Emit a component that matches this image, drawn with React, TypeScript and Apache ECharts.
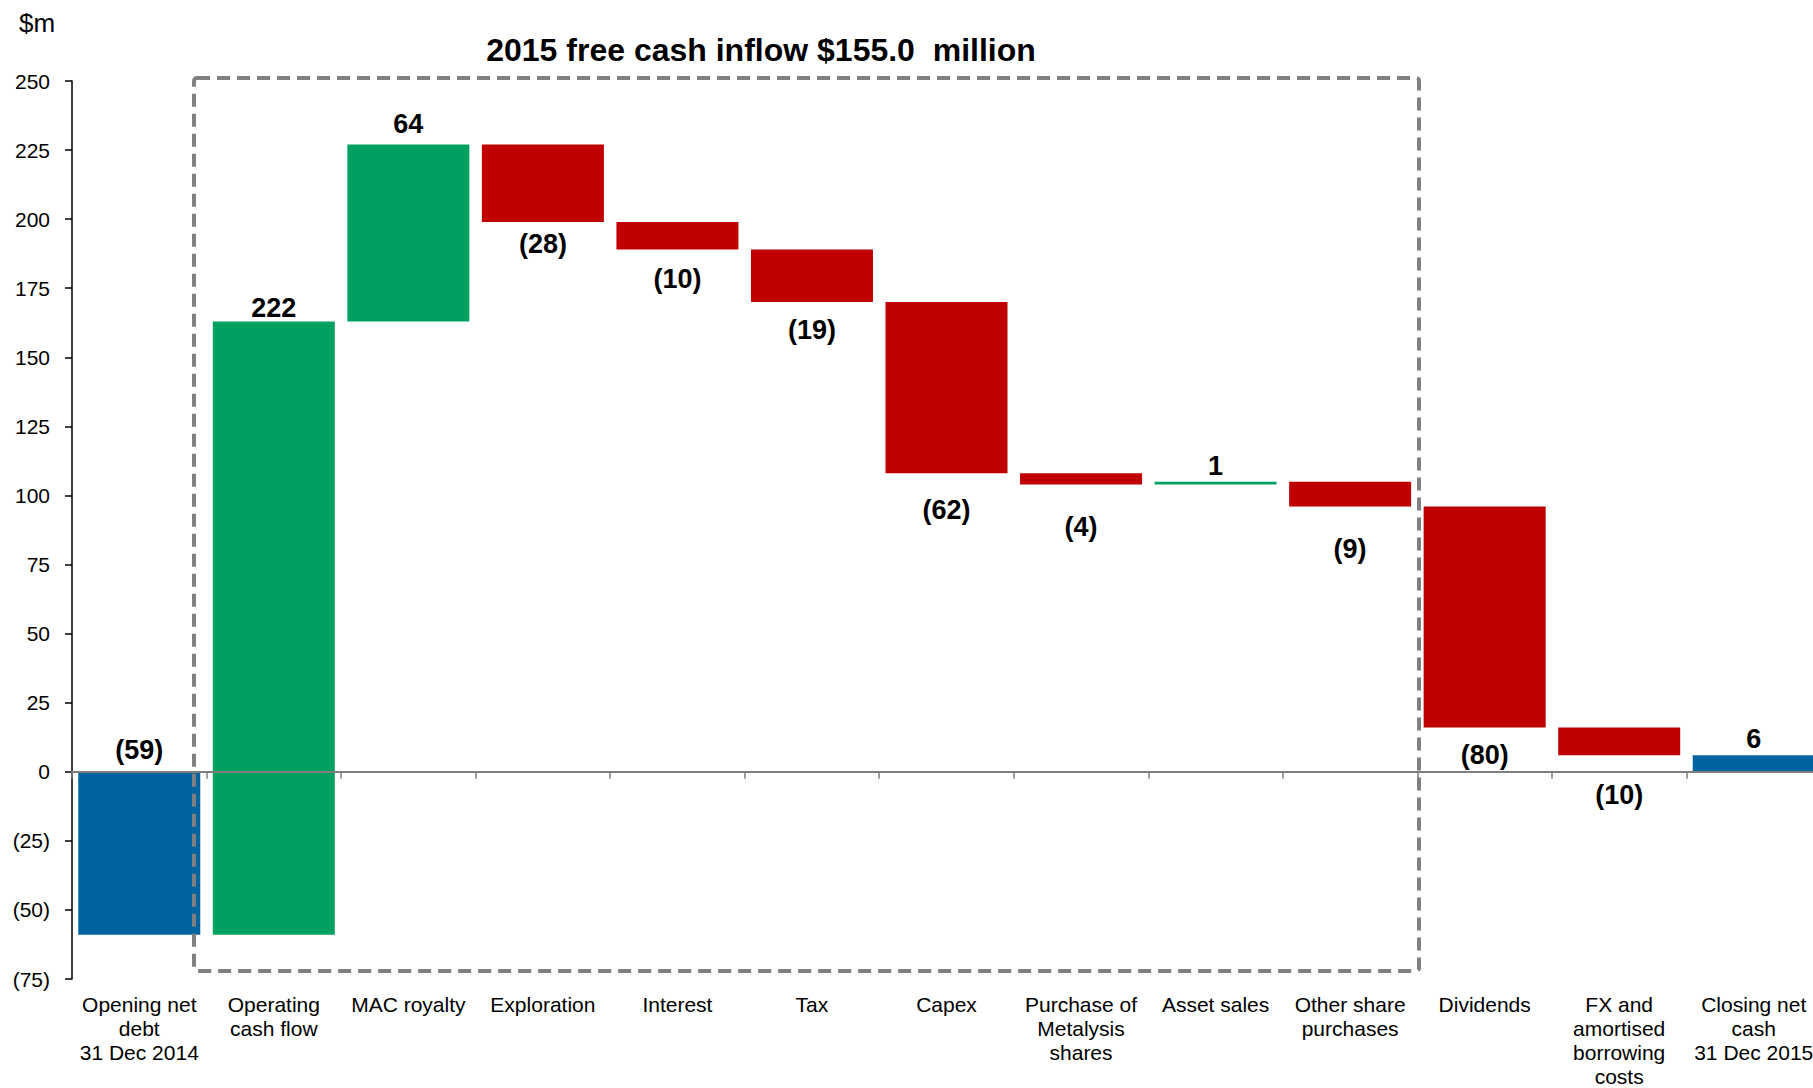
import React, { useEffect, useRef } from "react";
import * as echarts from "echarts";

const categories = [
  "Opening net\ndebt\n31 Dec 2014",
  "Operating\ncash flow",
  "MAC royalty",
  "Exploration",
  "Interest",
  "Tax",
  "Capex",
  "Purchase of\nMetalysis\nshares",
  "Asset sales",
  "Other share\npurchases",
  "Dividends",
  "FX and\namortised\nborrowing\ncosts",
  "Closing net\ncash\n31 Dec 2015",
];

// Values in $m: totals for opening/closing, changes otherwise
const values = [-59, 222, 64, -28, -10, -19, -62, -4, 1, -9, -80, -10, 6];
const kinds = ["total", "change", "change", "change", "change", "change", "change", "change", "change", "change", "change", "change", "total"];

const yTicks = { min: -75, max: 250, interval: 25 };
const titleText = "2015 free cash inflow $155.0  million";
const unitText = "$m";

// label gap (style) per bar
const labelGap = [8, 0, 7, 9, 16, 14, 23, 29, 2, 29, 14, 26, 3];

const COLORS = { total: "#0064A1", up: "#00A160", down: "#C00000" };
const FONT = "'Liberation Sans', Arial, sans-serif";

function fmt(v: number) {
  return v < 0 ? `(${Math.abs(v)})` : `${v}`;
}

export default function App() {
  const ref = useRef<HTMLDivElement>(null);
  useEffect(() => {
    if (!ref.current) return;
    const chart = echarts.init(ref.current, undefined, { renderer: "svg" });

    const base: number[] = [];
    const vis: any[] = [];
    let running = 0;
    values.forEach((v, i) => {
      let b = 0;
      let h = 0;
      let color = COLORS.total;
      if (kinds[i] === "total") {
        b = 0;
        h = v;
        running = v;
      } else if (v >= 0) {
        b = running;
        h = v;
        running += v;
        color = COLORS.up;
      } else {
        running += v;
        b = running;
        h = -v;
        color = COLORS.down;
      }
      base.push(b);
      const above = kinds[i] === "total" || v >= 0;
      vis.push({
        value: h,
        itemStyle: { color },
        label: {
          position: above ? "top" : "bottom",
          distance: labelGap[i],
          formatter: fmt(v),
        },
      });
    });

    chart.setOption({
      animation: false,
      textStyle: { fontFamily: FONT },
      grid: { left: 72, right: 0, top: 81, bottom: 107, containLabel: false },
      xAxis: [
        {
          type: "category",
          data: categories,
          position: "bottom",
          axisLine: { show: false, onZero: false },
          axisTick: { show: false },
          axisLabel: {
            interval: 0,
            fontSize: 21,
            lineHeight: 24,
            color: "#000",
            margin: 13,
            fontFamily: FONT,
          },
        },
        {
          type: "category",
          data: categories,
          position: "top",
          z: 10,
          axisLine: { show: true, onZero: true, lineStyle: { color: "#7f7f7f", width: 2 } },
          axisTick: { show: true, inside: true, length: 7, lineStyle: { color: "#7f7f7f", width: 1.5 } },
          axisLabel: { show: false },
        },
      ],
      yAxis: {
        type: "value",
        min: yTicks.min,
        max: yTicks.max,
        interval: yTicks.interval,
        splitLine: { show: false },
        axisLine: { show: true, lineStyle: { color: "#000", width: 1.5 } },
        axisTick: { show: true, length: 7, lineStyle: { color: "#000", width: 1.5 } },
        axisLabel: {
          fontSize: 21,
          color: "#000",
          margin: 22,
          fontFamily: FONT,
          formatter: (v: number) => fmt(v),
        },
      },
      series: [
        {
          type: "bar",
          stack: "w",
          stackStrategy: "all",
          barWidth: 122,
          silent: true,
          itemStyle: { color: "transparent" },
          data: base,
        },
        {
          type: "bar",
          stack: "w",
          stackStrategy: "all",
          barWidth: 122,
          data: vis,
          label: {
            show: true,
            fontSize: 27,
            fontWeight: "bold",
            color: "#000",
            fontFamily: FONT,
          },
        },
      ],
      graphic: [
        {
          type: "rect",
          shape: { x: 194, y: 78, width: 1225, height: 893, r: 3 },
          style: { fill: "none", stroke: "#808080", lineWidth: 4, lineDash: [13, 7] },
          z: 20,
          silent: true,
        },
        {
          type: "text",
          x: 761,
          y: 50,
          style: {
            text: titleText,
            fontSize: 32,
            fontWeight: "bold",
            fill: "#000",
            fontFamily: FONT,
            align: "center",
            verticalAlign: "middle",
          },
        },
        {
          type: "text",
          x: 19,
          y: 23,
          style: {
            text: unitText,
            fontSize: 26,
            fill: "#000",
            fontFamily: FONT,
            align: "left",
            verticalAlign: "middle",
          },
        },
      ],
    });
    return () => chart.dispose();
  }, []);
  return (
    <div
      ref={ref}
      style={{ position: "fixed", left: 0, top: 0, width: 1821, height: 1088, background: "#fff" }}
    />
  );
}
